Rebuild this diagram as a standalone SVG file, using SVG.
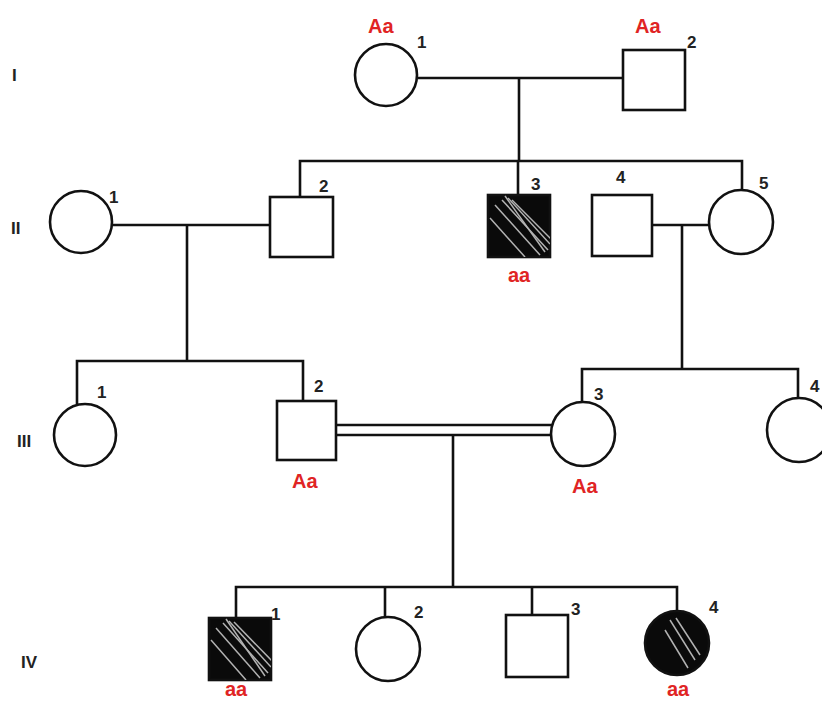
<svg xmlns="http://www.w3.org/2000/svg" width="822" height="701" viewBox="0 0 822 701">
<style>
.sh{fill:#fff;stroke:#111;stroke-width:2.6}
.af{fill:#0a0a0a;stroke:#111;stroke-width:2.6}
.ln{fill:none;stroke:#111;stroke-width:2.6}
.num{font-family:"Liberation Sans",Arial,sans-serif;font-weight:bold;font-size:17px;fill:#222}
.gen{font-family:"Liberation Sans",Arial,sans-serif;font-weight:bold;font-size:17px;fill:#222}
.gt{font-family:"Liberation Sans",Arial,sans-serif;font-weight:bold;font-size:20px;fill:#e02424}
.st{stroke:#ddd;stroke-width:1.5;opacity:0.8}
</style>
<defs>
<clipPath id="c23"><rect x="488" y="195" width="62" height="62"/></clipPath>
<clipPath id="c41"><rect x="209" y="618" width="62" height="62"/></clipPath>
<clipPath id="c44"><circle cx="677" cy="643" r="32"/></clipPath>
</defs>
<rect width="822" height="701" fill="#fff"/>
<g id="gen-labels">
<text class="gen" x="12" y="81">I</text>
<text class="gen" x="11" y="234">II</text>
<text class="gen" x="17" y="447">III</text>
<text class="gen" x="21" y="668">IV</text>
</g>
<g id="connectors">
<line class="ln" x1="418" y1="78" x2="623" y2="78"/>
<line class="ln" x1="519" y1="78" x2="519" y2="161"/>
<polyline class="ln" points="300,197 300,161 742,161 742,190"/>
<line class="ln" x1="518" y1="161" x2="518" y2="195"/>
<line class="ln" x1="112" y1="225" x2="270" y2="225"/>
<line class="ln" x1="187" y1="225" x2="187" y2="361"/>
<line class="ln" x1="652" y1="225" x2="710" y2="225"/>
<line class="ln" x1="682" y1="225" x2="682" y2="369"/>
<polyline class="ln" points="77,404 77,361 303,361 303,401"/>
<polyline class="ln" points="582,402 582,369 798,369 798,398"/>
<line class="ln" x1="336" y1="425" x2="556" y2="425"/>
<line class="ln" x1="336" y1="435" x2="553" y2="435"/>
<line class="ln" x1="453" y1="435" x2="453" y2="587"/>
<polyline class="ln" points="236,618 236,587 677,587 677,611"/>
<line class="ln" x1="385" y1="587" x2="385" y2="617"/>
<line class="ln" x1="532" y1="587" x2="532" y2="615"/>
</g>
<g id="I-1"><circle class="sh" cx="386" cy="75" r="31"/><text class="gt" x="368" y="33">Aa</text><text class="num" x="417" y="48">1</text></g>
<g id="I-2"><rect class="sh" x="623" y="50" width="62" height="60"/><text class="gt" x="635" y="33">Aa</text><text class="num" x="687" y="48">2</text></g>
<g id="II-1"><circle class="sh" cx="81" cy="222" r="31"/><text class="num" x="109" y="203">1</text></g>
<g id="II-2"><rect class="sh" x="270" y="197" width="63" height="60"/><text class="num" x="319" y="192">2</text></g>
<g id="II-3"><rect class="af" x="488" y="195" width="62" height="62"/>
<g clip-path="url(#c23)" class="st"><line x1="495" y1="205" x2="540" y2="255"/><line x1="502" y1="200" x2="548" y2="250"/><line x1="508" y1="198" x2="550" y2="244"/><line x1="512" y1="200" x2="552" y2="240"/><line x1="490" y1="218" x2="525" y2="257"/><line x1="505" y1="196" x2="545" y2="252"/></g>
<text class="num" x="531" y="190">3</text><text class="gt" x="508" y="282">aa</text></g>
<g id="II-4"><rect class="sh" x="592" y="195" width="60" height="61"/><text class="num" x="616" y="183">4</text></g>
<g id="II-5"><circle class="sh" cx="741" cy="222" r="32"/><text class="num" x="759" y="189">5</text></g>
<g id="III-1"><circle class="sh" cx="85" cy="435" r="31"/><text class="num" x="97" y="398">1</text></g>
<g id="III-2"><rect class="sh" x="277" y="401" width="59" height="59"/><text class="num" x="314" y="392">2</text><text class="gt" x="292" y="488">Aa</text></g>
<g id="III-3"><circle class="sh" cx="583" cy="434" r="32"/><text class="num" x="594" y="400">3</text><text class="gt" x="572" y="493">Aa</text></g>
<g id="III-4"><circle class="sh" cx="799" cy="430" r="32"/><text class="num" x="810" y="392">4</text></g>
<g id="IV-1"><rect class="af" x="209" y="618" width="62" height="62"/>
<g clip-path="url(#c41)" class="st"><line x1="216" y1="628" x2="260" y2="678"/><line x1="223" y1="623" x2="268" y2="673"/><line x1="229" y1="621" x2="271" y2="667"/><line x1="234" y1="622" x2="273" y2="662"/><line x1="211" y1="640" x2="246" y2="680"/><line x1="226" y1="619" x2="265" y2="676"/></g>
<text class="num" x="271" y="620">1</text><text class="gt" x="225" y="696">aa</text></g>
<g id="IV-2"><circle class="sh" cx="388" cy="649" r="32"/><text class="num" x="414" y="618">2</text></g>
<g id="IV-3"><rect class="sh" x="506" y="615" width="62" height="62"/><text class="num" x="571" y="615">3</text></g>
<g id="IV-4"><circle class="af" cx="677" cy="643" r="32"/>
<g clip-path="url(#c44)" class="st"><line x1="670" y1="620" x2="695" y2="660"/><line x1="676" y1="618" x2="700" y2="655"/><line x1="665" y1="630" x2="688" y2="668"/></g>
<text class="num" x="709" y="613">4</text><text class="gt" x="667" y="696">aa</text></g>
</svg>
